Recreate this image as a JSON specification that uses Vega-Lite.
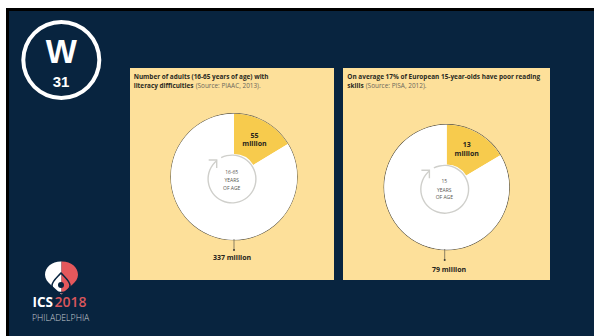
{
  "$schema": "https://vega.github.io/schema/vega-lite/v6.json",
  "width": 594,
  "height": 336,
  "padding": 0,
  "autosize": "none",
  "background": "#ffffff",
  "config": {
    "view": {"stroke": null},
    "axis": {"disable": true},
    "text": {"font": "Open Sans", "baseline": "alphabetic"}
  },
  "resolve": {"scale": {"theta": "independent"}},
  "datasets": {
    "shares": [
      {"panel": "adults", "segment": "literacy difficulties", "millions": 55},
      {"panel": "adults", "segment": "remaining", "millions": 282},
      {"panel": "teens", "segment": "literacy difficulties", "millions": 13},
      {"panel": "teens", "segment": "remaining", "millions": 66}
    ],
    "one": [{"item": "shape"}]
  },
  "layer": [
    {
      "data": {"name": "one"},
      "mark": {"type": "rect", "color": "#000000"},
      "encoding": {
        "x": {"datum": 6, "type": "quantitative", "scale": {"domain": [0, 594], "nice": false, "zero": false}},
        "x2": {"datum": 594},
        "y": {"datum": 8, "type": "quantitative", "scale": {"domain": [0, 336], "range": [0, 336], "nice": false, "zero": false}},
        "y2": {"datum": 336}
      }
    },
    {
      "data": {"name": "one"},
      "mark": {"type": "rect", "color": "#08243f"},
      "encoding": {
        "x": {"datum": 9, "type": "quantitative"},
        "x2": {"datum": 594},
        "y": {"datum": 11, "type": "quantitative"},
        "y2": {"datum": 336}
      }
    },
    {
      "data": {"name": "one"},
      "mark": {"type": "rect", "color": "#fde09a"},
      "encoding": {
        "x": {"datum": 130, "type": "quantitative"},
        "x2": {"datum": 334},
        "y": {"datum": 68, "type": "quantitative"},
        "y2": {"datum": 280}
      }
    },
    {
      "data": {"name": "one"},
      "mark": {"type": "rect", "color": "#fde09a"},
      "encoding": {
        "x": {"datum": 343, "type": "quantitative"},
        "x2": {"datum": 550},
        "y": {"datum": 68, "type": "quantitative"},
        "y2": {"datum": 280}
      }
    },
    {
      "data": {"name": "one"},
      "mark": {"type": "arc", "theta": 0, "theta2": 6.2832, "innerRadius": 36, "outerRadius": 40, "color": "#ffffff"},
      "encoding": {
        "x": {"datum": 61.3, "type": "quantitative"},
        "y": {"datum": 60, "type": "quantitative"}
      }
    },
    {
      "data": {"values": [{"label": "W"}]},
      "mark": {"type": "text", "font": "Liberation Sans", "fontWeight": "bold", "fontSize": 33, "color": "#ffffff", "align": "center"},
      "encoding": {
        "x": {"datum": 61.3, "type": "quantitative"},
        "y": {"datum": 63, "type": "quantitative"},
        "text": {"field": "label"}
      }
    },
    {
      "data": {"values": [{"label": "31"}]},
      "mark": {"type": "text", "font": "Liberation Sans", "fontWeight": "bold", "fontSize": 15, "color": "#ffffff", "align": "center"},
      "encoding": {
        "x": {"datum": 61, "type": "quantitative"},
        "y": {"datum": 87, "type": "quantitative"},
        "text": {"field": "label"}
      }
    },
    {
      "data": {"values": [{"label": "Number of adults (16-65 years of age) with"}]},
      "mark": {"type": "text", "fontWeight": "bold", "fontSize": 6.4, "color": "#2a2a22", "align": "left"},
      "encoding": {
        "x": {"datum": 133.7, "type": "quantitative"},
        "y": {"datum": 79, "type": "quantitative"},
        "text": {"field": "label"}
      }
    },
    {
      "data": {"values": [{"label": "literacy difficulties"}]},
      "mark": {"type": "text", "fontWeight": "bold", "fontSize": 6.4, "color": "#2a2a22", "align": "left"},
      "encoding": {
        "x": {"datum": 133.7, "type": "quantitative"},
        "y": {"datum": 88, "type": "quantitative"},
        "text": {"field": "label"}
      }
    },
    {
      "data": {"values": [{"label": "(Source: PIAAC, 2013)."}]},
      "mark": {"type": "text", "fontSize": 6.4, "color": "#6b675a", "align": "left"},
      "encoding": {
        "x": {"datum": 195.7, "type": "quantitative"},
        "y": {"datum": 88, "type": "quantitative"},
        "text": {"field": "label"}
      }
    },
    {
      "data": {"values": [{"label": "On average 17% of European 15-year-olds have poor reading"}]},
      "mark": {"type": "text", "fontWeight": "bold", "fontSize": 6.45, "color": "#2a2a22", "align": "left"},
      "encoding": {
        "x": {"datum": 347.3, "type": "quantitative"},
        "y": {"datum": 79, "type": "quantitative"},
        "text": {"field": "label"}
      }
    },
    {
      "data": {"values": [{"label": "skills"}]},
      "mark": {"type": "text", "fontWeight": "bold", "fontSize": 6.45, "color": "#2a2a22", "align": "left"},
      "encoding": {
        "x": {"datum": 347.3, "type": "quantitative"},
        "y": {"datum": 87.5, "type": "quantitative"},
        "text": {"field": "label"}
      }
    },
    {
      "data": {"values": [{"label": "(Source: PISA, 2012)."}]},
      "mark": {"type": "text", "fontSize": 6.45, "color": "#6b675a", "align": "left"},
      "encoding": {
        "x": {"datum": 365.7, "type": "quantitative"},
        "y": {"datum": 87.5, "type": "quantitative"},
        "text": {"field": "label"}
      }
    },
    {
      "data": {"name": "one"},
      "mark": {"type": "arc", "theta": 0, "theta2": 6.2832, "innerRadius": 0, "outerRadius": 63.6, "color": "#5a564a"},
      "encoding": {
        "x": {"datum": 234, "type": "quantitative"},
        "y": {"datum": 176.7, "type": "quantitative"}
      }
    },
    {
      "data": {"name": "one"},
      "mark": {"type": "arc", "theta": 0, "theta2": 6.2832, "innerRadius": 0, "outerRadius": 63, "color": "#ffffff"},
      "encoding": {
        "x": {"datum": 234, "type": "quantitative"},
        "y": {"datum": 176.7, "type": "quantitative"}
      }
    },
    {
      "data": {"name": "shares"},
      "transform": [{"filter": "datum.panel === 'adults'"}],
      "mark": {"type": "arc", "innerRadius": 22.7, "outerRadius": 63},
      "encoding": {
        "x": {"datum": 234, "type": "quantitative"},
        "y": {"datum": 176.7, "type": "quantitative"},
        "theta": {"field": "millions", "type": "quantitative", "stack": true},
        "order": {"field": "millions", "type": "quantitative", "sort": "ascending"},
        "color": {"field": "segment", "type": "nominal", "legend": null, "scale": {"domain": ["literacy difficulties", "remaining"], "range": ["#f7cb4d", "#ffffff"]}}
      }
    },
    {
      "data": {"name": "one"},
      "mark": {"type": "arc", "theta": -0.47, "theta2": 5.6, "innerRadius": 23.2, "outerRadius": 24.6, "color": "#cfcfcb"},
      "encoding": {
        "x": {"datum": 232, "type": "quantitative"},
        "y": {"datum": 179, "type": "quantitative"}
      }
    },
    {
      "data": {"name": "one"},
      "mark": {"type": "point", "shape": "M-1,0L0,0L0,1", "size": 256, "filled": false, "stroke": "#cfcfcb", "strokeWidth": 1.4, "opacity": 1},
      "encoding": {
        "x": {"datum": 216.7, "type": "quantitative"},
        "y": {"datum": 160, "type": "quantitative"}
      }
    },
    {
      "data": {"values": [{"label": "16-65"}]},
      "mark": {"type": "text", "fontSize": 5, "color": "#55554f", "align": "center"},
      "encoding": {
        "x": {"datum": 231.7, "type": "quantitative"},
        "y": {"datum": 174.3, "type": "quantitative"},
        "text": {"field": "label"}
      }
    },
    {
      "data": {"values": [{"label": "YEARS"}]},
      "mark": {"type": "text", "fontSize": 5, "color": "#55554f", "align": "center"},
      "encoding": {
        "x": {"datum": 231.7, "type": "quantitative"},
        "y": {"datum": 182.3, "type": "quantitative"},
        "text": {"field": "label"}
      }
    },
    {
      "data": {"values": [{"label": "OF AGE"}]},
      "mark": {"type": "text", "fontSize": 5, "color": "#55554f", "align": "center"},
      "encoding": {
        "x": {"datum": 231.7, "type": "quantitative"},
        "y": {"datum": 190.3, "type": "quantitative"},
        "text": {"field": "label"}
      }
    },
    {
      "data": {"values": [{"label": "55"}]},
      "mark": {"type": "text", "fontWeight": "bold", "fontSize": 7, "color": "#26241c", "align": "center"},
      "encoding": {
        "x": {"datum": 254.5, "type": "quantitative"},
        "y": {"datum": 137.6, "type": "quantitative"},
        "text": {"field": "label"}
      }
    },
    {
      "data": {"values": [{"label": "million"}]},
      "mark": {"type": "text", "fontWeight": "bold", "fontSize": 7, "color": "#26241c", "align": "center"},
      "encoding": {
        "x": {"datum": 254.5, "type": "quantitative"},
        "y": {"datum": 146, "type": "quantitative"},
        "text": {"field": "label"}
      }
    },
    {
      "data": {"name": "one"},
      "mark": {"type": "rule", "color": "#5a564a", "strokeWidth": 0.7},
      "encoding": {
        "x": {"datum": 234, "type": "quantitative"},
        "y": {"datum": 239, "type": "quantitative"},
        "y2": {"datum": 250}
      }
    },
    {
      "data": {"name": "one"},
      "mark": {"type": "point", "shape": "circle", "size": 4, "filled": true, "color": "#3a3830", "opacity": 1},
      "encoding": {
        "x": {"datum": 234, "type": "quantitative"},
        "y": {"datum": 250, "type": "quantitative"}
      }
    },
    {
      "data": {"values": [{"label": "337 million"}]},
      "mark": {"type": "text", "fontWeight": "bold", "fontSize": 7, "color": "#26241c", "align": "center"},
      "encoding": {
        "x": {"datum": 232, "type": "quantitative"},
        "y": {"datum": 260.3, "type": "quantitative"},
        "text": {"field": "label"}
      }
    },
    {
      "data": {"name": "one"},
      "mark": {"type": "arc", "theta": 0, "theta2": 6.2832, "innerRadius": 0, "outerRadius": 63.1, "color": "#4f4b40"},
      "encoding": {
        "x": {"datum": 446.7, "type": "quantitative"},
        "y": {"datum": 187.2, "type": "quantitative"}
      }
    },
    {
      "data": {"name": "one"},
      "mark": {"type": "arc", "theta": 0, "theta2": 6.2832, "innerRadius": 0, "outerRadius": 62.4, "color": "#ffffff"},
      "encoding": {
        "x": {"datum": 446.7, "type": "quantitative"},
        "y": {"datum": 187.2, "type": "quantitative"}
      }
    },
    {
      "data": {"name": "shares"},
      "transform": [{"filter": "datum.panel === 'teens'"}],
      "mark": {"type": "arc", "innerRadius": 22.7, "outerRadius": 62.4},
      "encoding": {
        "x": {"datum": 446.7, "type": "quantitative"},
        "y": {"datum": 187.2, "type": "quantitative"},
        "theta": {"field": "millions", "type": "quantitative", "stack": true},
        "order": {"field": "millions", "type": "quantitative", "sort": "ascending"},
        "color": {"field": "segment", "type": "nominal", "legend": null}
      }
    },
    {
      "data": {"name": "one"},
      "mark": {"type": "arc", "theta": -0.47, "theta2": 5.6, "innerRadius": 23.2, "outerRadius": 24.6, "color": "#cfcfcb"},
      "encoding": {
        "x": {"datum": 444.7, "type": "quantitative"},
        "y": {"datum": 189.3, "type": "quantitative"}
      }
    },
    {
      "data": {"name": "one"},
      "mark": {"type": "point", "shape": "M-1,0L0,0L0,1", "size": 256, "filled": false, "stroke": "#cfcfcb", "strokeWidth": 1.4, "opacity": 1},
      "encoding": {
        "x": {"datum": 429.4, "type": "quantitative"},
        "y": {"datum": 170.3, "type": "quantitative"}
      }
    },
    {
      "data": {"values": [{"label": "15"}]},
      "mark": {"type": "text", "fontSize": 5, "color": "#55554f", "align": "center"},
      "encoding": {
        "x": {"datum": 444.3, "type": "quantitative"},
        "y": {"datum": 183.3, "type": "quantitative"},
        "text": {"field": "label"}
      }
    },
    {
      "data": {"values": [{"label": "YEARS"}]},
      "mark": {"type": "text", "fontSize": 5, "color": "#55554f", "align": "center"},
      "encoding": {
        "x": {"datum": 444.3, "type": "quantitative"},
        "y": {"datum": 191.6, "type": "quantitative"},
        "text": {"field": "label"}
      }
    },
    {
      "data": {"values": [{"label": "OF AGE"}]},
      "mark": {"type": "text", "fontSize": 5, "color": "#55554f", "align": "center"},
      "encoding": {
        "x": {"datum": 444.3, "type": "quantitative"},
        "y": {"datum": 199.3, "type": "quantitative"},
        "text": {"field": "label"}
      }
    },
    {
      "data": {"values": [{"label": "13"}]},
      "mark": {"type": "text", "fontWeight": "bold", "fontSize": 7, "color": "#26241c", "align": "center"},
      "encoding": {
        "x": {"datum": 466.7, "type": "quantitative"},
        "y": {"datum": 147, "type": "quantitative"},
        "text": {"field": "label"}
      }
    },
    {
      "data": {"values": [{"label": "million"}]},
      "mark": {"type": "text", "fontWeight": "bold", "fontSize": 7, "color": "#26241c", "align": "center"},
      "encoding": {
        "x": {"datum": 466.7, "type": "quantitative"},
        "y": {"datum": 155.6, "type": "quantitative"},
        "text": {"field": "label"}
      }
    },
    {
      "data": {"name": "one"},
      "mark": {"type": "rule", "color": "#5a564a", "strokeWidth": 0.7},
      "encoding": {
        "x": {"datum": 444.7, "type": "quantitative"},
        "y": {"datum": 249, "type": "quantitative"},
        "y2": {"datum": 260}
      }
    },
    {
      "data": {"name": "one"},
      "mark": {"type": "point", "shape": "circle", "size": 4, "filled": true, "color": "#3a3830", "opacity": 1},
      "encoding": {
        "x": {"datum": 444.7, "type": "quantitative"},
        "y": {"datum": 260, "type": "quantitative"}
      }
    },
    {
      "data": {"values": [{"label": "79 million"}]},
      "mark": {"type": "text", "fontWeight": "bold", "fontSize": 7, "color": "#26241c", "align": "center"},
      "encoding": {
        "x": {"datum": 449, "type": "quantitative"},
        "y": {"datum": 272.3, "type": "quantitative"},
        "text": {"field": "label"}
      }
    },
    {
      "data": {"name": "one"},
      "mark": {"type": "point", "shape": "M0,-1C-0.55,-1.02 -1,-0.68 -1,-0.2C-1,0.28 -0.4,0.55 0,1Z", "size": 1089, "filled": true, "color": "#ffffff", "opacity": 1},
      "encoding": {
        "x": {"datum": 61.5, "type": "quantitative"},
        "y": {"datum": 278, "type": "quantitative"}
      }
    },
    {
      "data": {"name": "one"},
      "mark": {"type": "point", "shape": "M0,-1C0.55,-1.02 1,-0.68 1,-0.2C1,0.28 0.4,0.55 0,1Z", "size": 1089, "filled": true, "color": "#e5585c", "opacity": 1},
      "encoding": {
        "x": {"datum": 61.5, "type": "quantitative"},
        "y": {"datum": 278, "type": "quantitative"}
      }
    },
    {
      "data": {"name": "one"},
      "mark": {"type": "point", "shape": "M0,-1.1C-0.5,-0.55 -1,-0.2 -1,0.3C-1,0.8 -0.5,1.05 0,1.05C0.5,1.05 1,0.8 1,0.3C1,-0.2 0.5,-0.55 0,-1.1Z", "size": 324, "filled": false, "stroke": "#08243f", "strokeWidth": 1.5, "opacity": 1},
      "encoding": {
        "x": {"datum": 61, "type": "quantitative"},
        "y": {"datum": 283, "type": "quantitative"}
      }
    },
    {
      "data": {"name": "one"},
      "mark": {"type": "point", "shape": "circle", "size": 36, "filled": true, "color": "#08243f", "opacity": 1},
      "encoding": {
        "x": {"datum": 61, "type": "quantitative"},
        "y": {"datum": 285, "type": "quantitative"}
      }
    },
    {
      "data": {"values": [{"label": "ICS"}]},
      "mark": {"type": "text", "fontWeight": "bold", "fontSize": 13.5, "color": "#ffffff", "align": "left"},
      "encoding": {
        "x": {"datum": 32.5, "type": "quantitative"},
        "y": {"datum": 307, "type": "quantitative"},
        "text": {"field": "label"}
      }
    },
    {
      "data": {"values": [{"label": "2018"}]},
      "mark": {"type": "text", "fontWeight": 600, "fontSize": 14, "color": "#d9565c", "align": "left"},
      "encoding": {
        "x": {"datum": 54.5, "type": "quantitative"},
        "y": {"datum": 307, "type": "quantitative"},
        "text": {"field": "label"}
      }
    },
    {
      "data": {"values": [{"label": "PHILADELPHIA"}]},
      "mark": {"type": "text", "fontWeight": 300, "fontSize": 8.7, "color": "#c9ced4", "align": "left"},
      "encoding": {
        "x": {"datum": 32, "type": "quantitative"},
        "y": {"datum": 320.7, "type": "quantitative"},
        "text": {"field": "label"}
      }
    }
  ]
}
